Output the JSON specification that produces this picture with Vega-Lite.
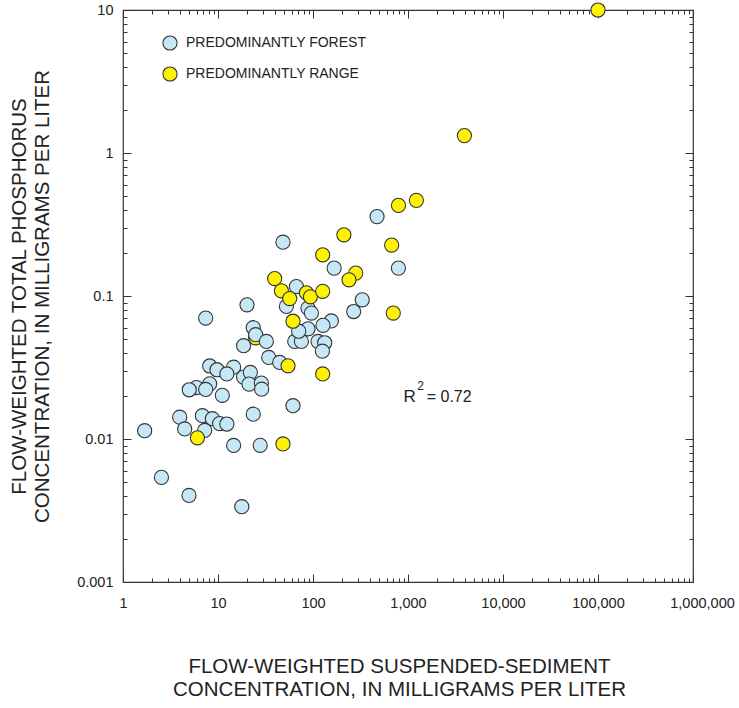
{
  "$schema": "https://vega.github.io/schema/vega-lite/v6.json",
  "width": 570,
  "height": 572,
  "autosize": {"type": "none"},
  "padding": {"left": 123, "top": 10, "right": 46, "bottom": 126},
  "background": "white",
  "config": {
    "view": {"stroke": "#333333", "strokeWidth": 1.2},
    "font": "Liberation Sans"
  },
  "datasets": {
    "pts": [
      {"sed": 24.9, "tp": 0.051, "land": "PREDOMINANTLY RANGE"},
      {"sed": 48.3, "tp": 0.238, "land": "PREDOMINANTLY FOREST"},
      {"sed": 66.9, "tp": 0.1165, "land": "PREDOMINANTLY FOREST"},
      {"sed": 20.2, "tp": 0.0868, "land": "PREDOMINANTLY FOREST"},
      {"sed": 52.5, "tp": 0.0845, "land": "PREDOMINANTLY FOREST"},
      {"sed": 88.6, "tp": 0.0823, "land": "PREDOMINANTLY FOREST"},
      {"sed": 96.2, "tp": 0.076, "land": "PREDOMINANTLY FOREST"},
      {"sed": 7.42, "tp": 0.0701, "land": "PREDOMINANTLY FOREST"},
      {"sed": 88.6, "tp": 0.059, "land": "PREDOMINANTLY FOREST"},
      {"sed": 23.5, "tp": 0.06, "land": "PREDOMINANTLY FOREST"},
      {"sed": 24.9, "tp": 0.0536, "land": "PREDOMINANTLY FOREST"},
      {"sed": 32.3, "tp": 0.0481, "land": "PREDOMINANTLY FOREST"},
      {"sed": 64.2, "tp": 0.0481, "land": "PREDOMINANTLY FOREST"},
      {"sed": 75.5, "tp": 0.0481, "land": "PREDOMINANTLY FOREST"},
      {"sed": 112.9, "tp": 0.0481, "land": "PREDOMINANTLY FOREST"},
      {"sed": 132.8, "tp": 0.0471, "land": "PREDOMINANTLY FOREST"},
      {"sed": 125.6, "tp": 0.0411, "land": "PREDOMINANTLY FOREST"},
      {"sed": 18.6, "tp": 0.0449, "land": "PREDOMINANTLY FOREST"},
      {"sed": 34.2, "tp": 0.0372, "land": "PREDOMINANTLY FOREST"},
      {"sed": 44.6, "tp": 0.0343, "land": "PREDOMINANTLY FOREST"},
      {"sed": 8.18, "tp": 0.0324, "land": "PREDOMINANTLY FOREST"},
      {"sed": 9.76, "tp": 0.0305, "land": "PREDOMINANTLY FOREST"},
      {"sed": 14.6, "tp": 0.0318, "land": "PREDOMINANTLY FOREST"},
      {"sed": 12.4, "tp": 0.0285, "land": "PREDOMINANTLY FOREST"},
      {"sed": 18.6, "tp": 0.0271, "land": "PREDOMINANTLY FOREST"},
      {"sed": 21.9, "tp": 0.0292, "land": "PREDOMINANTLY FOREST"},
      {"sed": 21.2, "tp": 0.0242, "land": "PREDOMINANTLY FOREST"},
      {"sed": 28.6, "tp": 0.0246, "land": "PREDOMINANTLY FOREST"},
      {"sed": 28.8, "tp": 0.0223, "land": "PREDOMINANTLY FOREST"},
      {"sed": 8.18, "tp": 0.0243, "land": "PREDOMINANTLY FOREST"},
      {"sed": 5.92, "tp": 0.0229, "land": "PREDOMINANTLY FOREST"},
      {"sed": 4.98, "tp": 0.0221, "land": "PREDOMINANTLY FOREST"},
      {"sed": 7.42, "tp": 0.0222, "land": "PREDOMINANTLY FOREST"},
      {"sed": 11.1, "tp": 0.0202, "land": "PREDOMINANTLY FOREST"},
      {"sed": 61.6, "tp": 0.0171, "land": "PREDOMINANTLY FOREST"},
      {"sed": 3.95, "tp": 0.0142, "land": "PREDOMINANTLY FOREST"},
      {"sed": 6.85, "tp": 0.01455, "land": "PREDOMINANTLY FOREST"},
      {"sed": 8.73, "tp": 0.01386, "land": "PREDOMINANTLY FOREST"},
      {"sed": 10.4, "tp": 0.01283, "land": "PREDOMINANTLY FOREST"},
      {"sed": 12.4, "tp": 0.01273, "land": "PREDOMINANTLY FOREST"},
      {"sed": 23.5, "tp": 0.0149, "land": "PREDOMINANTLY FOREST"},
      {"sed": 4.46, "tp": 0.01175, "land": "PREDOMINANTLY FOREST"},
      {"sed": 7.24, "tp": 0.01148, "land": "PREDOMINANTLY FOREST"},
      {"sed": 1.69, "tp": 0.01143, "land": "PREDOMINANTLY FOREST"},
      {"sed": 14.6, "tp": 0.00901, "land": "PREDOMINANTLY FOREST"},
      {"sed": 27.8, "tp": 0.00904, "land": "PREDOMINANTLY FOREST"},
      {"sed": 2.54, "tp": 0.00539, "land": "PREDOMINANTLY FOREST"},
      {"sed": 4.95, "tp": 0.00403, "land": "PREDOMINANTLY FOREST"},
      {"sed": 17.8, "tp": 0.00336, "land": "PREDOMINANTLY FOREST"},
      {"sed": 472, "tp": 0.359, "land": "PREDOMINANTLY FOREST"},
      {"sed": 167, "tp": 0.1567, "land": "PREDOMINANTLY FOREST"},
      {"sed": 793, "tp": 0.1567, "land": "PREDOMINANTLY FOREST"},
      {"sed": 330, "tp": 0.094, "land": "PREDOMINANTLY FOREST"},
      {"sed": 268, "tp": 0.0779, "land": "PREDOMINANTLY FOREST"},
      {"sed": 156, "tp": 0.0669, "land": "PREDOMINANTLY FOREST"},
      {"sed": 127.4, "tp": 0.0624, "land": "PREDOMINANTLY FOREST"},
      {"sed": 70.7, "tp": 0.0567, "land": "PREDOMINANTLY FOREST"},
      {"sed": 100000, "tp": 10, "land": "PREDOMINANTLY RANGE"},
      {"sed": 3924, "tp": 1.323, "land": "PREDOMINANTLY RANGE"},
      {"sed": 1225, "tp": 0.4665, "land": "PREDOMINANTLY RANGE"},
      {"sed": 794, "tp": 0.4302, "land": "PREDOMINANTLY RANGE"},
      {"sed": 211.5, "tp": 0.2677, "land": "PREDOMINANTLY RANGE"},
      {"sed": 673, "tp": 0.2272, "land": "PREDOMINANTLY RANGE"},
      {"sed": 126.5, "tp": 0.194, "land": "PREDOMINANTLY RANGE"},
      {"sed": 281.6, "tp": 0.1445, "land": "PREDOMINANTLY RANGE"},
      {"sed": 239.3, "tp": 0.1298, "land": "PREDOMINANTLY RANGE"},
      {"sed": 39.5, "tp": 0.1325, "land": "PREDOMINANTLY RANGE"},
      {"sed": 46.5, "tp": 0.1087, "land": "PREDOMINANTLY RANGE"},
      {"sed": 56.9, "tp": 0.0959, "land": "PREDOMINANTLY RANGE"},
      {"sed": 85.2, "tp": 0.1053, "land": "PREDOMINANTLY RANGE"},
      {"sed": 93.9, "tp": 0.0987, "land": "PREDOMINANTLY RANGE"},
      {"sed": 126.5, "tp": 0.1078, "land": "PREDOMINANTLY RANGE"},
      {"sed": 700, "tp": 0.076, "land": "PREDOMINANTLY RANGE"},
      {"sed": 61.6, "tp": 0.0666, "land": "PREDOMINANTLY RANGE"},
      {"sed": 54.6, "tp": 0.0325, "land": "PREDOMINANTLY RANGE"},
      {"sed": 126.5, "tp": 0.0285, "land": "PREDOMINANTLY RANGE"},
      {"sed": 6.07, "tp": 0.0102, "land": "PREDOMINANTLY RANGE"},
      {"sed": 48.3, "tp": 0.00923, "land": "PREDOMINANTLY RANGE"}
    ]
  },
  "layer": [
    {
      "data": {"name": "pts"},
      "mark": {"type": "point", "filled": true, "size": 200, "stroke": "#333333", "strokeWidth": 1.1, "opacity": 1},
      "encoding": {
        "x": {
          "field": "sed", "type": "quantitative",
          "scale": {"type": "log", "domain": [1, 1000000], "nice": false},
          "axis": {
            "orient": "bottom",
            "values": [1,2,3,4,5,6,7,8,9,10,20,30,40,50,60,70,80,90,100,200,300,400,500,600,700,800,900,1000,2000,3000,4000,5000,6000,7000,8000,9000,10000,20000,30000,40000,50000,60000,70000,80000,90000,100000,200000,300000,400000,500000,600000,700000,800000,900000,1000000],
            "labelExpr": "abs(log(datum.value)/LN10 - round(log(datum.value)/LN10)) < 0.001 ? format(datum.value, ',') : ''",
            "tickSize": {"condition": {"test": "abs(log(datum.value)/LN10 - round(log(datum.value)/LN10)) < 0.001", "value": -8}, "value": -4},
            "labelOffset": {"condition": {"test": "datum.value > 500000", "value": 9}, "value": 0},
            "tickColor": "#333333", "tickWidth": 1,
            "domain": false, "grid": false,
            "labelFlush": false, "labelBound": false, "labelOverlap": false,
            "labelFontSize": 14.5, "labelColor": "#222222", "labelPadding": 22,
            "title": ["FLOW-WEIGHTED SUSPENDED-SEDIMENT", "CONCENTRATION, IN MILLIGRAMS PER LITER"],
            "titleFontSize": 20.5, "titleFontWeight": "normal", "titleColor": "#222222",
            "titleLineHeight": 23, "titlePadding": 43, "titleX": 276, "titleAnchor": null, "titleAlign": "center"
          }
        },
        "y": {
          "field": "tp", "type": "quantitative",
          "scale": {"type": "log", "domain": [0.001, 10], "nice": false},
          "axis": {
            "orient": "left",
            "values": [0.001,0.002,0.003,0.004,0.005,0.006,0.007,0.008,0.009,0.01,0.02,0.03,0.04,0.05,0.06,0.07,0.08,0.09,0.1,0.2,0.3,0.4,0.5,0.6,0.7,0.8,0.9,1,2,3,4,5,6,7,8,9,10],
            "labelExpr": "abs(log(datum.value)/LN10 - round(log(datum.value)/LN10)) < 0.001 ? format(datum.value, '~g') : ''",
            "tickSize": {"condition": {"test": "abs(log(datum.value)/LN10 - round(log(datum.value)/LN10)) < 0.001", "value": -8}, "value": -4},
            "tickColor": "#333333", "tickWidth": 1,
            "domain": false, "grid": false,
            "labelFlush": false, "labelBound": false, "labelOverlap": false,
            "labelFontSize": 14.5, "labelColor": "#222222", "labelPadding": 18,
            "title": ["FLOW-WEIGHTED TOTAL PHOSPHORUS", "CONCENTRATION, IN MILLIGRAMS PER LITER"],
            "titleFontSize": 20.5, "titleFontWeight": "normal", "titleColor": "#222222",
            "titleLineHeight": 23, "titlePadding": 24
          }
        },
        "color": {
          "field": "land", "type": "nominal",
          "scale": {"domain": ["PREDOMINANTLY FOREST", "PREDOMINANTLY RANGE"], "range": ["#c6e8f6", "#fff200"]},
          "legend": {
            "orient": "none", "legendX": 39, "legendY": 25, "padding": 0,
            "title": null, "symbolType": "circle", "symbolSize": 200,
            "symbolStrokeColor": "#333333", "symbolStrokeWidth": 1.1, "symbolOpacity": 1,
            "rowPadding": 11, "labelOffset": 8, "labelFontSize": 14, "labelColor": "#222222", "labelLimit": 400
          }
        }
      }
    },
    {
      "data": {"name": "pts"},
      "mark": {"type": "point", "opacity": 0},
      "encoding": {
        "x": {
          "field": "sed", "type": "quantitative",
          "axis": {
            "orient": "top",
            "values": [1,2,3,4,5,6,7,8,9,10,20,30,40,50,60,70,80,90,100,200,300,400,500,600,700,800,900,1000,2000,3000,4000,5000,6000,7000,8000,9000,10000,20000,30000,40000,50000,60000,70000,80000,90000,100000,200000,300000,400000,500000,600000,700000,800000,900000,1000000],
            "labels": false, "title": null, "domain": false, "grid": false,
            "tickSize": {"condition": {"test": "abs(log(datum.value)/LN10 - round(log(datum.value)/LN10)) < 0.001", "value": -8}, "value": -4},
            "tickColor": "#333333", "tickWidth": 1
          }
        },
        "y": {
          "field": "tp", "type": "quantitative",
          "axis": {
            "orient": "right",
            "values": [0.001,0.002,0.003,0.004,0.005,0.006,0.007,0.008,0.009,0.01,0.02,0.03,0.04,0.05,0.06,0.07,0.08,0.09,0.1,0.2,0.3,0.4,0.5,0.6,0.7,0.8,0.9,1,2,3,4,5,6,7,8,9,10],
            "labels": false, "title": null, "domain": false, "grid": false,
            "tickSize": {"condition": {"test": "abs(log(datum.value)/LN10 - round(log(datum.value)/LN10)) < 0.001", "value": -8}, "value": -4},
            "tickColor": "#333333", "tickWidth": 1
          }
        }
      }
    },
    {
      "data": {"values": [{"sed": 1042, "tp": 0.01975, "t": "R"}]},
      "mark": {"type": "text", "align": "center", "baseline": "middle", "fontSize": 17, "color": "#222222"},
      "encoding": {
        "x": {"field": "sed", "type": "quantitative", "axis": null},
        "y": {"field": "tp", "type": "quantitative", "axis": null},
        "text": {"field": "t"}
      }
    },
    {
      "data": {"values": [{"sed": 1361, "tp": 0.0236, "t": "2"}]},
      "mark": {"type": "text", "align": "center", "baseline": "middle", "fontSize": 12, "color": "#222222"},
      "encoding": {
        "x": {"field": "sed", "type": "quantitative", "axis": null},
        "y": {"field": "tp", "type": "quantitative", "axis": null},
        "text": {"field": "t"}
      }
    },
    {
      "data": {"values": [{"sed": 1574, "tp": 0.01975, "t": "= 0.72"}]},
      "mark": {"type": "text", "align": "left", "baseline": "middle", "fontSize": 16, "color": "#222222"},
      "encoding": {
        "x": {"field": "sed", "type": "quantitative", "axis": null},
        "y": {"field": "tp", "type": "quantitative", "axis": null},
        "text": {"field": "t"}
      }
    }
  ],
  "resolve": {"axis": {"x": "independent", "y": "independent"}}
}
